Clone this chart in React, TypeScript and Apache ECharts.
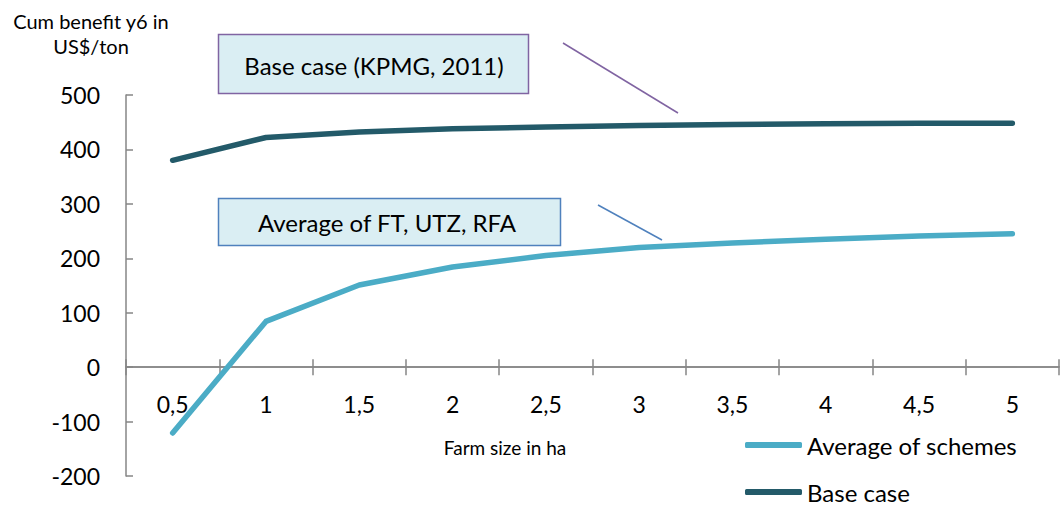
import React, { useEffect, useRef } from "react";
import * as echarts from "echarts";

const categories = ["0,5", "1", "1,5", "2", "2,5", "3", "3,5", "4", "4,5", "5"];
const averageOfSchemes = [-121, 84, 151, 184, 205, 220, 228, 235, 241, 245];
const baseCase = [380, 422, 432, 438, 441, 444, 446, 447, 448, 448];
const yTicks = { min: -200, max: 500, interval: 100 };

const FONT = "Lato, 'Open Sans', sans-serif";
const AXIS_GRAY = "#868686";
const W = 1064;
const H = 506;
const GRID = { left: 126, right: 5, top: 95, bottom: 30 };

export default function App() {
  const ref = useRef<HTMLDivElement>(null);
  useEffect(() => {
    if (!ref.current) return;
    const chart = echarts.init(ref.current, undefined, { renderer: "svg" });
    // place the category axis on the value 0 line of the value axis
    const gridHeight = H - GRID.top - GRID.bottom;
    const zeroOffset = -((0 - yTicks.min) / (yTicks.max - yTicks.min)) * gridHeight;
    const legendCommon = {
      orient: "horizontal",
      left: 745,
      padding: 0,
      itemWidth: 57,
      itemHeight: 6,
      icon: "roundRect",
      textStyle: { fontFamily: FONT, fontSize: 24, lineHeight: 22, color: "#000" },
    };
    chart.setOption({
      animation: false,
      textStyle: { fontFamily: FONT, color: "#000" },
      grid: { ...GRID, containLabel: false, outerBoundsMode: "none" },
      legend: [
        { ...legendCommon, top: 433, data: ["Average of schemes"] },
        { ...legendCommon, top: 480, data: ["Base case"] },
      ],
      xAxis: [
        {
          type: "category",
          data: categories,
          boundaryGap: true,
          position: "bottom",
          offset: zeroOffset,
          axisLine: { onZero: false, lineStyle: { color: AXIS_GRAY, width: 1.5 } },
          axisTick: { show: true, length: 8, lineStyle: { color: AXIS_GRAY, width: 1.5 } },
          axisLabel: { margin: 25, fontSize: 23, color: "#000", fontFamily: FONT },
          splitLine: { show: false },
        },
        {
          type: "category",
          data: categories,
          boundaryGap: true,
          position: "bottom",
          offset: zeroOffset,
          axisLine: { onZero: false, show: true, lineStyle: { color: AXIS_GRAY, width: 1.5 } },
          axisTick: { show: true, inside: true, length: 8, lineStyle: { color: AXIS_GRAY, width: 1.5 } },
          axisLabel: { show: false },
          splitLine: { show: false },
        },
      ],
      yAxis: {
        type: "value",
        min: yTicks.min,
        max: yTicks.max,
        interval: yTicks.interval,
        axisLine: { show: true, lineStyle: { color: AXIS_GRAY, width: 1.5 } },
        axisTick: { show: true, inside: true, length: 7, lineStyle: { color: AXIS_GRAY, width: 1.5 } },
        axisLabel: { margin: 26, fontSize: 23, color: "#000", fontFamily: FONT },
        splitLine: { show: false },
      },
      series: [
        {
          name: "Average of schemes",
          type: "line",
          data: averageOfSchemes,
          showSymbol: false,
          symbol: "none",
          color: "#4BACC6",
          lineStyle: { width: 5.5, color: "#4BACC6", cap: "round", join: "round" },
        },
        {
          name: "Base case",
          type: "line",
          data: baseCase,
          showSymbol: false,
          symbol: "none",
          color: "#235A69",
          lineStyle: { width: 5.5, color: "#235A69", cap: "round", join: "round" },
        },
      ],
      graphic: [
        {
          type: "text",
          x: 91,
          y: 8,
          style: {
            text: "Cum benefit y6 in\nUS$/ton",
            fontFamily: FONT,
            fontSize: 20,
            lineHeight: 25,
            align: "center",
            fill: "#000",
          },
        },
        {
          type: "text",
          x: 505,
          y: 447,
          style: {
            text: "Farm size in ha",
            fontFamily: FONT,
            fontSize: 19,
            align: "center",
            verticalAlign: "middle",
            fill: "#000",
          },
        },
        {
          type: "rect",
          shape: { x: 218.5, y: 34.5, width: 310, height: 59 },
          style: { fill: "#DAEEF3", stroke: "#8064A2", lineWidth: 1.5 },
        },
        {
          type: "text",
          x: 374,
          y: 65,
          style: {
            text: "Base case (KPMG, 2011)",
            fontFamily: FONT,
            fontSize: 24,
            align: "center",
            verticalAlign: "middle",
            fill: "#000",
          },
        },
        {
          type: "line",
          shape: { x1: 563, y1: 43, x2: 678, y2: 113 },
          style: { stroke: "#8064A2", lineWidth: 1.5 },
        },
        {
          type: "rect",
          shape: { x: 218.5, y: 198.5, width: 342, height: 47 },
          style: { fill: "#DAEEF3", stroke: "#4F81BD", lineWidth: 1.5 },
        },
        {
          type: "text",
          x: 387,
          y: 222,
          style: {
            text: "Average of FT, UTZ, RFA",
            fontFamily: FONT,
            fontSize: 24,
            align: "center",
            verticalAlign: "middle",
            fill: "#000",
          },
        },
        {
          type: "line",
          shape: { x1: 598, y1: 205, x2: 662, y2: 240 },
          style: { stroke: "#4F81BD", lineWidth: 1.5 },
        },
      ],
    });
    return () => chart.dispose();
  }, []);
  return (
    <div
      ref={ref}
      style={{ position: "fixed", left: 0, top: 0, width: W, height: H, background: "#fff" }}
    />
  );
}
